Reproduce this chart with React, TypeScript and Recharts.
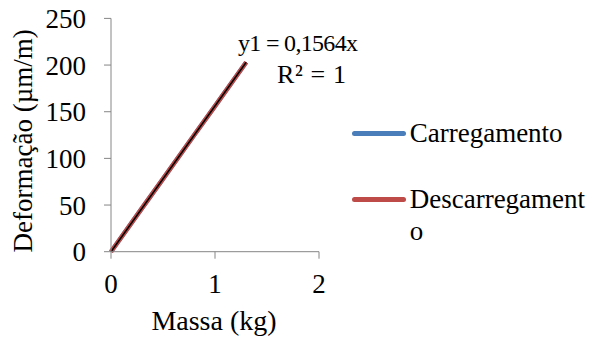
import { Legend, Line, LineChart, XAxis, YAxis } from 'recharts'

const massa = [0, 0.3, 0.5, 0.8, 1.0, 1.3]
const carregamento = [0, 47, 78, 125, 156, 203]
const descarregamento = [0, 47, 78, 125, 156, 203]
const trendMassa = [0, 1.3]
const trendValues = [0, 203]
const xTicks = [0, 1, 2]
const yTicks = [0, 50, 100, 150, 200, 250]

const FONT = '"Liberation Serif", "Times New Roman", serif'
const AXIS = '#868686'
const BLUE = '#4A7EBB'
const RED = '#BE4B48'

const data = massa.map((m, i) => ({ massa: m, carregamento: carregamento[i], descarregamento: descarregamento[i] }))
const trend = trendMassa.map((m, i) => ({ massa: m, trend: trendValues[i] }))

function LegendBox() {
  const items = [
    { label: 'Carregamento', color: BLUE },
    { label: 'Descarregamento', color: RED },
  ]
  return (
    <div style={{ fontFamily: FONT, fontSize: 27, color: '#000', textAlign: 'left' }}>
      {items.map((it, i) => (
        <div key={it.label} style={{ display: 'flex', alignItems: 'flex-start', marginBottom: i === 0 ? 34.6 : 0 }}>
          <div style={{ width: 54, height: 5, borderRadius: 3, background: it.color, marginTop: 14, flex: 'none' }} />
          <div style={{ width: 181, marginLeft: 4, lineHeight: '32px', wordBreak: 'break-all' }}>{it.label}</div>
        </div>
      ))}
    </div>
  )
}

export default function App() {
  return (
    <div style={{ position: 'absolute', left: 0, top: 0, width: 594, height: 341, background: '#fff' }}>
      <LineChart width={594} height={341} data={data} margin={{ top: 18.4, right: 36, bottom: 59.3, left: 51 }}>
        <XAxis
          dataKey="massa"
          type="number"
          domain={[0, 2]}
          ticks={xTicks}
          height={30}
          tickSize={7}
          tickMargin={15}
          stroke={AXIS}
          tick={{ fill: '#000', fontSize: 27, fontFamily: FONT }}
        />
        <YAxis
          type="number"
          domain={[0, 250]}
          ticks={yTicks}
          width={60}
          tickSize={7}
          tickMargin={18}
          stroke={AXIS}
          tick={{ fill: '#000', fontSize: 27, fontFamily: FONT }}
        />
        <Line dataKey="carregamento" stroke={BLUE} strokeWidth={4.5} dot={false} isAnimationActive={false} />
        <Line dataKey="descarregamento" stroke={RED} strokeWidth={4.5} dot={false} isAnimationActive={false} />
        <Line data={trend} dataKey="trend" stroke="#000" strokeWidth={1.5} dot={false} isAnimationActive={false} legendType="none" />
        <Legend
          layout="vertical"
          align="right"
          verticalAlign="top"
          content={<LegendBox />}
          wrapperStyle={{ left: 351.7, top: 116.6, width: 239 }}
        />
        <text transform="translate(31.5 140.8) rotate(-90)" textAnchor="middle" fontFamily={FONT} fontSize={27} fill="#000">
          Deformação (µm/m)
        </text>
        <text x={214} y={330} textAnchor="middle" fontFamily={FONT} fontSize={28} fill="#000">
          Massa (kg)
        </text>
        <text x={238} y={51} fontFamily={FONT} fontSize={24} fill="#000" textLength={120} lengthAdjust="spacing">
          y1 = 0,1564x
        </text>
        <text x={277} y={83} fontFamily={FONT} fontSize={26} fill="#000" textLength={69} lengthAdjust="spacing">
          R² = 1
        </text>
      </LineChart>
    </div>
  )
}
